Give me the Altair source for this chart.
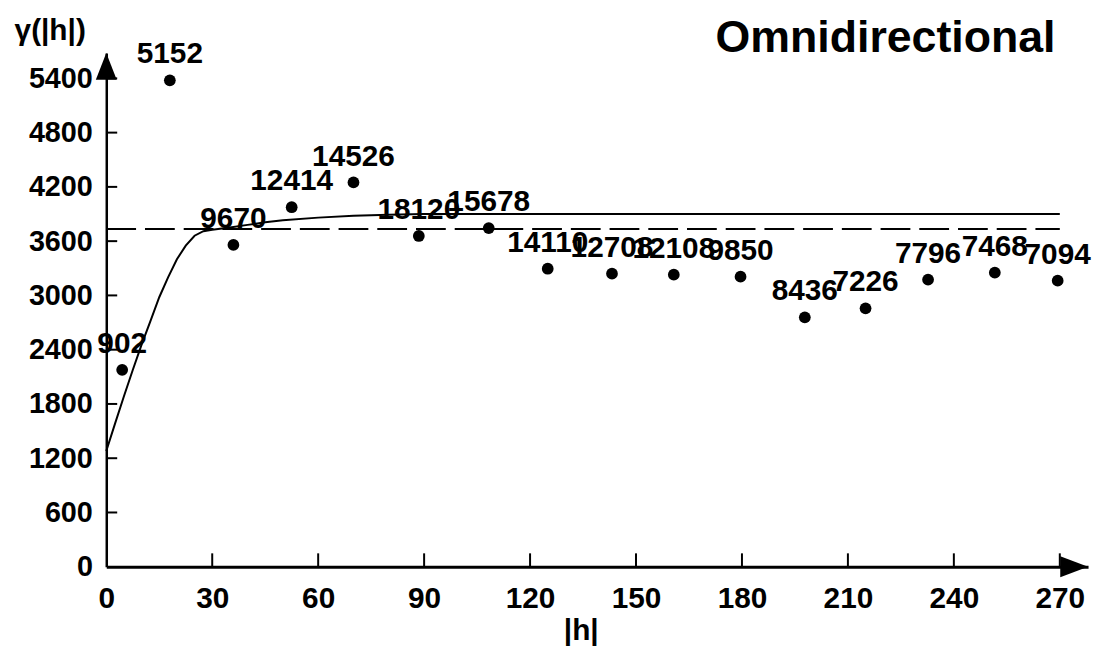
import altair as alt
import pandas as pd

# experimental semivariogram points (lag |h|, gamma, number of pairs)
lag_h = [4.5, 18, 36, 52.5, 70, 88.5, 108.3, 125, 143.2, 160.7, 179.6, 197.8, 215, 232.7, 251.6, 269.4]
gamma = [2177, 5378, 3558, 3975, 4249, 3657, 3745, 3295, 3240, 3229, 3207, 2758, 2857, 3174, 3251, 3163]
pairs = ["902", "5152", "9670", "12414", "14526", "18120", "15678", "14110", "12708", "12108",
         "9850", "8436", "7226", "7796", "7468", "7094"]

# fitted model curve
model_h = [0, 2.5, 5, 7.5, 10, 12.5, 15, 17.5, 20, 22.5, 25, 27.5, 30, 35, 40, 45, 50, 60, 70, 80, 90, 100, 270]
model_g = [1280, 1585, 1885, 2175, 2455, 2715, 2980, 3200, 3400, 3550, 3660, 3710, 3725, 3750, 3780, 3808,
           3830, 3860, 3880, 3893, 3900, 3900, 3900]

# sample variance (dashed line)
sill_h = [0, 270]
sill_g = [3735, 3735]

y_ticks = [0, 600, 1200, 1800, 2400, 3000, 3600, 4200, 4800, 5400]
x_ticks = [0, 30, 60, 90, 120, 150, 180, 210, 240, 270]
x_max = 278
y_max = 5680

title_text = "Omnidirectional"
x_title = "|h|"
y_title = "γ(|h|)"

pts = pd.DataFrame({"h": lag_h, "g": gamma, "n": pairs})
model = pd.DataFrame({"h": model_h, "g": model_g})
sill = pd.DataFrame({"h": sill_h, "g": sill_g})
yt = pd.DataFrame({"v": y_ticks[1:]})
xt = pd.DataFrame({"v": x_ticks[1:]})

xs = alt.Scale(domain=[0, x_max], nice=False, zero=False)
ys = alt.Scale(domain=[0, y_max], nice=False, zero=False)

x_axis = alt.Axis(values=x_ticks, format="d", ticks=False, grid=False, domainColor="black", domainWidth=3,
                  labelFont="Liberation Sans", labelFontSize=30, labelFontWeight="bold",
                  labelColor="black", labelPadding=17, labelFlush=False,
                  title=x_title, titleFont="Liberation Sans", titleFontSize=30, titleFontWeight="bold",
                  titleColor="black", titleX=478, titleY=64, titleAlign="center", titleBaseline="middle")
y_axis = alt.Axis(values=y_ticks, format="d", ticks=False, grid=False, domainColor="black", domainWidth=2.5,
                  labelFont="Liberation Sans", labelFontSize=29, labelFontWeight="bold",
                  labelColor="black", labelPadding=14, labelFlush=False,
                  title=y_title, titleFont="Liberation Sans", titleFontSize=30, titleFontWeight="bold",
                  titleColor="black", titleAngle=0, titleX=-57, titleY=-23, titleAlign="center",
                  titleBaseline="middle")

model_line = alt.Chart(model).mark_line(color="black", strokeWidth=2).encode(
    x=alt.X("h:Q", scale=xs, axis=x_axis),
    y=alt.Y("g:Q", scale=ys, axis=y_axis),
)

sill_line = alt.Chart(sill).mark_line(color="black", strokeWidth=2, strokeDash=[30, 9]).encode(
    x=alt.X("h:Q", scale=xs), y=alt.Y("g:Q", scale=ys)
)

points = alt.Chart(pts).mark_circle(color="black", size=140, opacity=1).encode(
    x=alt.X("h:Q", scale=xs), y=alt.Y("g:Q", scale=ys)
)

labels = alt.Chart(pts).mark_text(font="Liberation Sans", fontSize=30, fontWeight="bold", color="black",
                                  align="center", baseline="middle", dy=-26).encode(
    x=alt.X("h:Q", scale=xs), y=alt.Y("g:Q", scale=ys), text="n:N"
)

ytick_marks = alt.Chart(yt).mark_rule(color="black", strokeWidth=2).encode(
    y=alt.Y("v:Q", scale=ys), x=alt.value(0), x2=alt.value(11)
)
xtick_marks = alt.Chart(xt).mark_rule(color="black", strokeWidth=2).encode(
    x=alt.X("v:Q", scale=xs), y=alt.value(517.5), y2=alt.value(504)
)

up_arrow = alt.Chart(pd.DataFrame({"h": [0], "g": [y_max]})).mark_point(
    shape="M0,0 L0.39,1 L-0.39,1 Z", size=2916, filled=True, color="black", opacity=1
).encode(x=alt.X("h:Q", scale=xs), y=alt.Y("g:Q", scale=ys))

right_arrow = alt.Chart(pd.DataFrame({"h": [x_max], "g": [0]})).mark_point(
    shape="M0,0 L-1,0.38 L-1,-0.38 Z", size=3136, filled=True, color="black", opacity=1
).encode(x=alt.X("h:Q", scale=xs), y=alt.Y("g:Q", scale=ys))

title = alt.Chart(pd.DataFrame({"t": [title_text]})).mark_text(
    font="Liberation Sans", fontSize=45, fontWeight="bold", color="black",
    align="center", baseline="alphabetic"
).encode(text="t:N", x=alt.value(785), y=alt.value(-1))

chart = alt.layer(
    model_line, sill_line, points, labels, ytick_marks, xtick_marks, up_arrow, right_arrow, title
).properties(
    width=989, height=517.5,
    autosize=alt.AutoSizeParams(type="none"),
    padding={"left": 99, "top": 43, "right": 7, "bottom": 80},
    background="white",
).configure_view(stroke=None)

chart.save("out.html", embed_options={"renderer": "svg", "actions": False})
